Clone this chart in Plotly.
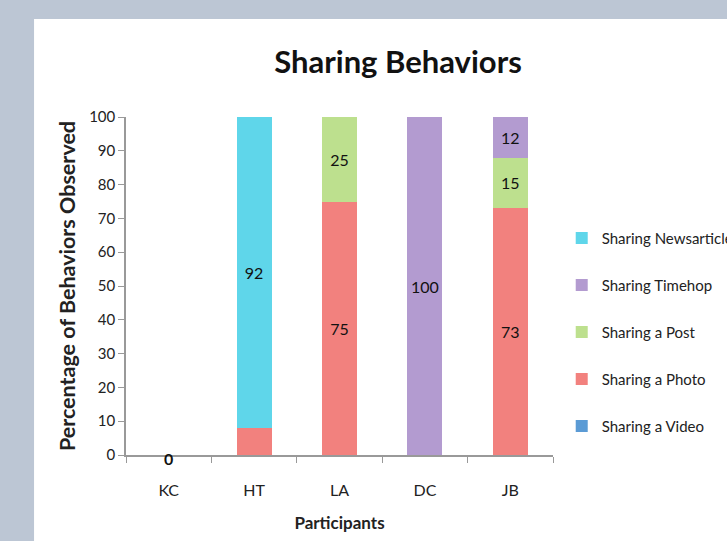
import plotly.graph_objects as go

participants = ["KC", "HT", "LA", "DC", "JB"]
sharing_video = [0, 0, 0, 0, 0]
sharing_photo = [0, 8, 75, 0, 73]
sharing_post = [0, 0, 25, 0, 15]
sharing_timehop = [0, 0, 0, 100, 12]
sharing_newsarticle = [0, 92, 0, 0, 0]
y_ticks = [0, 10, 20, 30, 40, 50, 60, 70, 80, 90, 100]

series = [
    ("Sharing a Video", sharing_video, "#5b9bd5"),
    ("Sharing a Photo", sharing_photo, "#f2817e"),
    ("Sharing a Post", sharing_post, "#bde08e"),
    ("Sharing Timehop", sharing_timehop, "#b39bd0"),
    ("Sharing Newsarticle", sharing_newsarticle, "#5fd6ea"),
]

FONT = "Lato"
fig = go.Figure()
n = len(series)
for i, (name, vals, color) in enumerate(series):
    labels = [str(v) if v >= 10 else "" for v in vals]
    fig.add_trace(go.Bar(
        x=participants, y=[v if v > 0 else None for v in vals], name=name,
        marker=dict(color=color, line=dict(width=0)),
        text=labels, textposition="inside", insidetextanchor="middle",
        textfont=dict(family=FONT, size=16, color="#111"),
        legendgroup=name, legendrank=n - i, width=0.41,
    ))

# zero label for KC
fig.add_annotation(x=participants[0], y=sharing_video[0], text="<b>%d</b>" % sharing_video[0],
                   showarrow=False, yshift=-3, font=dict(family=FONT, size=16, color="#111"))

fig.add_shape(type="rect", xref="paper", yref="paper", x0=-0.153, x1=1.3,
              y0=-0.26, y1=1.29, fillcolor="white", line=dict(width=0), layer="below")

fig.update_layout(
    width=780, height=541,
    margin=dict(l=126, r=53, t=117, b=86),
    paper_bgcolor="#bcc6d4", plot_bgcolor="white",
    barmode="stack", bargap=0.59,
    font=dict(family=FONT, color="#222"),
    title=dict(text="<b>Sharing Behaviors</b>", x=398 / 780, xanchor="center",
               y=0.885, yanchor="middle", font=dict(family=FONT, size=31, color="#111")),
    xaxis=dict(domain=[0, 0.7105], categoryorder="array", categoryarray=participants,
               showline=True, linecolor="#999", linewidth=1.5, ticks="outside",
               tickson="boundaries", ticklen=6, tickcolor="#999", ticklabelstandoff=20,
               tickfont=dict(family=FONT, size=16, color="#222"),
               title=dict(text="<b>Participants</b>", font=dict(family=FONT, size=17, color="#222"),
                          standoff=19),
               showgrid=False),
    yaxis=dict(range=[0, 100], tickvals=y_ticks, showline=True, linecolor="#999", linewidth=1.5,
               ticks="outside", ticklen=6, tickcolor="#999", showgrid=False, zeroline=False,
               tickfont=dict(family=FONT, size=15, color="#222"),
               title=dict(text="<b>Percentage of Behaviors Observed</b>",
                          font=dict(family=FONT, size=21.5, color="#222"), standoff=8)),
    legend=dict(x=0.725, y=0.69, xanchor="left", yanchor="top", traceorder="grouped",
                tracegroupgap=24.5, font=dict(family=FONT, size=15, color="#222"),
                bgcolor="rgba(0,0,0,0)", itemwidth=30),
    showlegend=True,
)

fig.write_html("out.html", config={"displayModeBar": False},
               post_script="document.body.style.margin='0';"
                           "document.body.style.overflow='hidden';"
                           "document.documentElement.style.overflow='hidden';")
